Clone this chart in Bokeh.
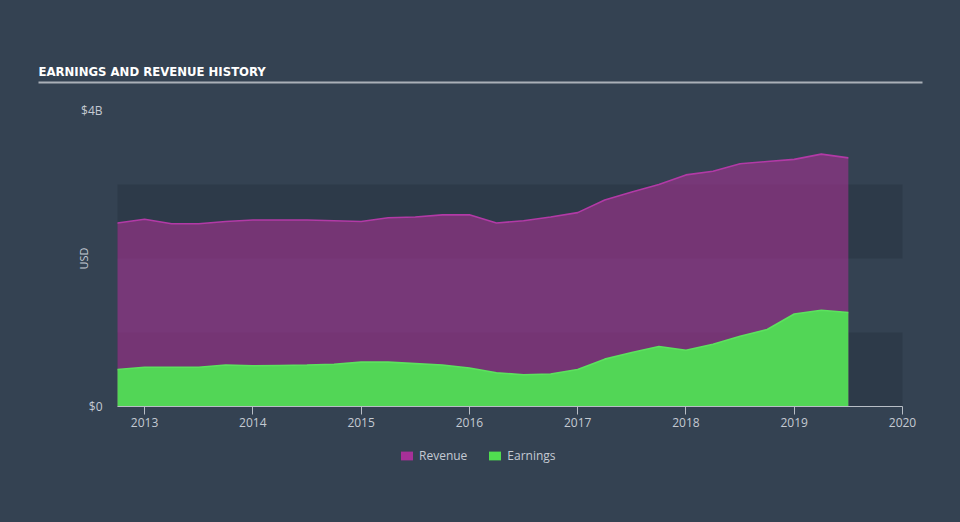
import math
from bokeh.plotting import figure
from bokeh.models import (Range1d, FixedTicker, BoxAnnotation, Legend, LegendItem, LinearAxis)
from bokeh.core.properties import value
from bokeh.embed import file_html
from bokeh.resources import INLINE

# ---- data (quarterly, values in billions USD) ----
quarters = [2012.75, 2013.0, 2013.25, 2013.5, 2013.75, 2014.0, 2014.25, 2014.5,
            2014.75, 2015.0, 2015.25, 2015.5, 2015.75, 2016.0, 2016.25, 2016.5,
            2016.75, 2017.0, 2017.25, 2017.5, 2017.75, 2018.0, 2018.25, 2018.5,
            2018.75, 2019.0, 2019.25, 2019.5]
revenue = [2.48, 2.53, 2.47, 2.47, 2.50, 2.52, 2.52, 2.52,
           2.51, 2.50, 2.55, 2.56, 2.59, 2.59, 2.48, 2.51,
           2.56, 2.62, 2.79, 2.90, 3.00, 3.13, 3.18, 3.28,
           3.31, 3.34, 3.41, 3.36]
earnings = [0.50, 0.53, 0.53, 0.53, 0.56, 0.55, 0.555, 0.56,
            0.57, 0.60, 0.60, 0.58, 0.56, 0.52, 0.455, 0.43,
            0.44, 0.50, 0.64, 0.73, 0.81, 0.76, 0.84, 0.95,
            1.04, 1.25, 1.30, 1.27]
year_ticks = [2013, 2014, 2015, 2016, 2017, 2018, 2019, 2020]
y_ticks = [0, 4]
y_tick_labels = ["$0", "$4B"]
series_names = ["Revenue", "Earnings"]
title_text = "EARNINGS AND REVENUE HISTORY"
y_axis_title = "USD"

BG = "#344252"
BAND = "#2d3a49"
TXT = "#c4cad2"

# layout geometry (pixels)
W, H = 960, 522
FL, FR, FT, FB = 38, 922, 82, 482        # frame edges
AX0, AX1, AXY, TOPY = 117, 902, 406, 110  # data-area extent
X0, X1 = 2012.75, 2020.0
YMAX = 4.0
ppx = (AX1 - AX0) / (X1 - X0)             # pixels per year
ppy = (AXY - TOPY) / YMAX                 # pixels per billion
xr = Range1d(X0 - (AX0 - FL) / ppx, X1 + (FR - AX1) / ppx)
yr = Range1d(-(FB - AXY) / ppy, (AXY - FT) / ppy)

p = figure(width=W, height=H, output_backend="svg", toolbar_location=None,
           x_range=xr, y_range=yr,
           min_border_left=FL, min_border_right=W - FR, min_border_top=FT,
           min_border_bottom=H - FB, background_fill_color=None, border_fill_color=None)
p.outline_line_color = None
p.grid.visible = False
p.yaxis.visible = False
xa = p.xaxis[0]

# title
p.title.text = title_text
p.title.align = "left"
p.title.text_color = "#ffffff"
p.title.text_font = "DejaVu Sans Condensed"
p.title.text_font_style = "bold"
p.title.text_font_size = "13px"
p.title.standoff = 8
p.title.offset = 0

# rule under the title (top axis line)
top = LinearAxis(ticker=FixedTicker(ticks=[]), axis_line_color="#aab0b8", axis_line_width=2,
                 major_tick_line_color=None, minor_tick_line_color=None,
                 major_label_text_font_size="0px")
p.add_layout(top, "above")

# background bands
p.add_layout(BoxAnnotation(bottom=0, top=1, left=X0, right=X1, fill_color=BAND, fill_alpha=1,
                           line_color=None, level="underlay"))
p.add_layout(BoxAnnotation(bottom=2, top=3, left=X0, right=X1, fill_color=BAND, fill_alpha=1,
                           line_color=None, level="underlay"))

p.varea(x=quarters, y1=0, y2=revenue, fill_color="#a2328f", fill_alpha=0.62)
p.line(x=quarters, y=revenue, line_color="#b23aa6", line_width=1.6)
p.varea(x=quarters, y1=0, y2=earnings, fill_color="#52d656", fill_alpha=1)
p.line(x=quarters, y=earnings, line_color="#5ce25e", line_width=1.6)

# legend swatches: zero-thickness areas along each series, shown only in the legend
rev_key = p.varea(x=quarters, y1=revenue, y2=revenue, fill_color="#a63098")
earn_key = p.varea(x=quarters, y1=earnings, y2=earnings, fill_color="#50de50")

# y tick labels and axis title (left of the data area)
lab_x = X0 - 15 / ppx
p.text(x=[lab_x] * len(y_ticks), y=y_ticks, text=y_tick_labels, text_color=TXT,
       text_font=value("Open Sans"), text_font_size="12px",
       text_align="right", text_baseline="middle")
p.text(x=[X0 - 33.7 / ppx], y=[2.0], text=[y_axis_title], angle=math.pi / 2,
       text_color=TXT, text_font=value("Open Sans"), text_font_size="11px",
       text_align="center", text_baseline="middle")

# x axis drawn at value 0
xa.fixed_location = 0
xa.bounds = (X0, X1)
xa.ticker = FixedTicker(ticks=year_ticks)
xa.axis_line_color = "#b8bec6"
xa.major_tick_line_color = "#b8bec6"
xa.major_tick_out = 8
xa.major_tick_in = 0
xa.minor_tick_line_color = None
xa.major_label_text_color = TXT
xa.major_label_text_font = "Open Sans"
xa.major_label_text_font_size = "12px"
xa.major_label_standoff = 3

legend = Legend(items=[LegendItem(label=series_names[0], renderers=[rev_key]),
                       LegendItem(label=series_names[1], renderers=[earn_key])],
                location=(399 - FL, FB - 464), orientation="horizontal",
                background_fill_alpha=0, border_line_color=None,
                padding=0, margin=0, spacing=20, label_standoff=5,
                glyph_width=15, glyph_height=11,
                label_text_color=TXT, label_text_font_size="12px",
                label_text_font="Open Sans")
p.add_layout(legend)

html = file_html(p, INLINE)
style = "<style>html, body { background: %s !important; }</style>" % BG
if "</head>" in html:
    html = html.replace("</head>", style + "</head>", 1)
else:
    html = style + html
open("out.html", "w").write(html)
